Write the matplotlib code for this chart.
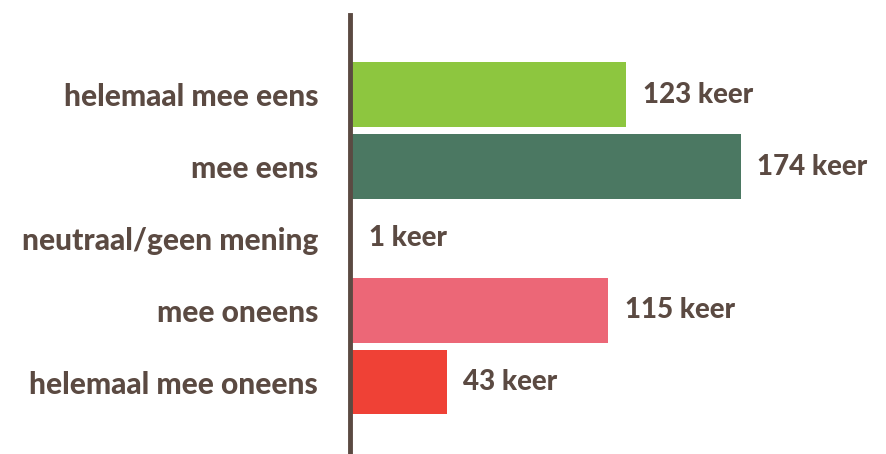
import matplotlib.pyplot as plt

# antwoorden en aantallen
categories = ["helemaal mee eens", "mee eens", "neutraal/geen mening",
              "mee oneens", "helemaal mee oneens"]
counts = [123, 174, 1, 115, 43]
colors = ["#8dc63f", "#4b7862", "#a0a0a0", "#ec6777", "#ef4136"]
text_color = "#5b4a42"

fig = plt.figure(figsize=(8.87, 4.54), dpi=100)
ax = fig.add_axes([350 / 887, 0, 537 / 887, 439 / 454])

y = list(range(len(categories)))
ax.barh(y, counts, height=0.9, color=colors, left=0)

for i, c in enumerate(counts):
    ax.text(c + 7.5, i, f"{c} keer", va="center", ha="left",
            fontsize=20, fontweight="black", family="Lato", color=text_color)

ax.set_xlim(0, 537 / 2.245)
ax.set_ylim(5.0, -1.11)
ax.set_yticks(y)
ax.set_yticklabels(categories, fontsize=21.5, fontweight="black",
                   family="Lato", color=text_color)
ax.tick_params(axis="y", length=0, pad=23)
ax.set_xticks([])

for s in ["top", "right", "bottom"]:
    ax.spines[s].set_visible(False)
ax.spines["left"].set_color(text_color)
ax.spines["left"].set_linewidth(3.5)
ax.spines["left"].set_zorder(3)

fig.savefig("out.png", dpi=100)
